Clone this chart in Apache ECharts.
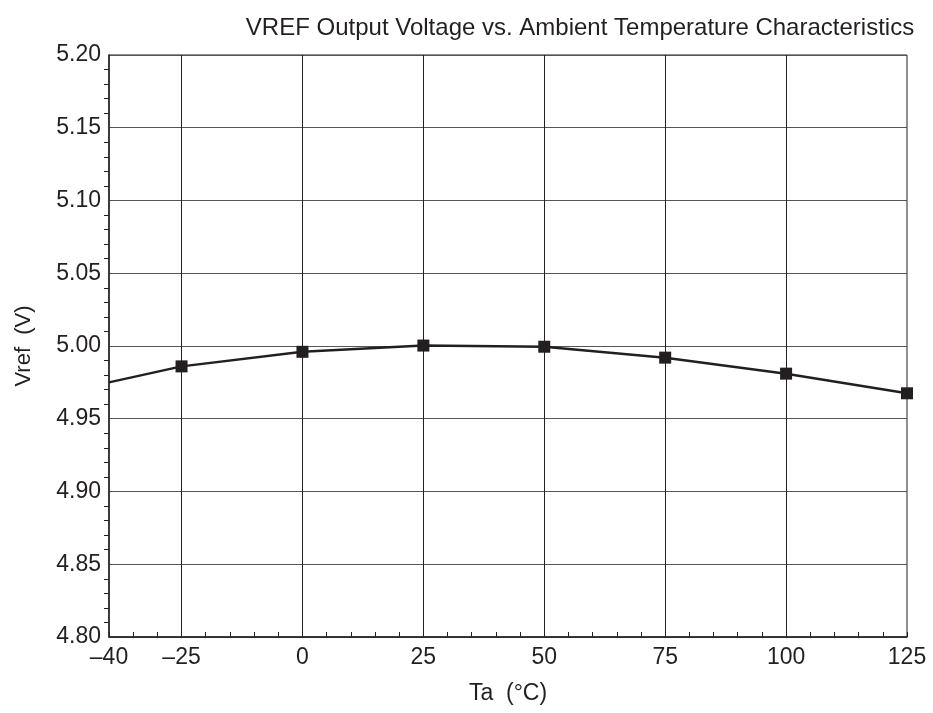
<!DOCTYPE html>
<html>
<head>
<meta charset="utf-8">
<script src="https://cdn.jsdelivr.net/npm/echarts@6/dist/echarts.min.js"></script>
<style>
html, body { margin: 0; padding: 0; background: #fff; }
#chart { width: 933px; height: 713px; }
</style>
</head>
<body>
<div id="chart"></div>
<script>
var temps = [-40, -25, 0, 25, 50, 75, 100, 125];
var vref = [4.975, 4.986, 4.996, 5.0003, 4.9995, 4.992, 4.981, 4.9675];
var labelTemps = [-40, -25, 0, 25, 50, 75, 100, 125];
var gridTemps = [-25, 0, 25, 50, 75, 100];

var chart = echarts.init(document.getElementById("chart"));
var font = "Liberation Sans";

var points = [];
for (var i = 0; i < temps.length; i++) {
	// first point sits on the left edge with no marker
	if (i == 0) {
		points.push({ value: [temps[i], vref[i]], symbol: "none" });
	} else {
		points.push([temps[i], vref[i]]);
	}
}

var vlines = gridTemps.map(function (t) {
	return { xAxis: t };
});

chart.setOption({
	animation: false,
	title: {
		text: "VREF Output Voltage vs. Ambient Temperature Characteristics",
		left: 575,
		top: 11,
		textAlign: "center",
		textStyle: { fontFamily: font, fontSize: 24, fontWeight: "normal", color: "#231f20" },
	},
	grid: {
		left: 109,
		right: 26,
		top: 55,
		bottom: 76,
		show: true,
		borderColor: "#231f20",
		borderWidth: 1,
	},
	xAxis: {
		type: "value",
		min: -40,
		max: 125,
		interval: 5,
		name: "Ta  (\u00b0C)",
		nameLocation: "middle",
		nameGap: 45,
		nameTextStyle: { fontFamily: font, fontSize: 23, color: "#231f20" },
		axisLine: { onZero: false, lineStyle: { color: "#231f20", width: 1.5 } },
		axisTick: { inside: true, length: 5, lineStyle: { color: "#231f20" } },
		splitLine: { show: false },
		axisLabel: {
			margin: 9,
			fontFamily: font,
			fontSize: 23,
			color: "#231f20",
			formatter: function (v) {
				if (labelTemps.indexOf(v) < 0) return "";
				return v < 0 ? "\u2013" + Math.abs(v) : String(v);
			},
		},
	},
	yAxis: {
		type: "value",
		min: 4.8,
		max: 5.2,
		interval: 0.05,
		name: "Vref  (V)",
		nameLocation: "middle",
		nameGap: 74,
		nameTextStyle: { fontFamily: font, fontSize: 22, color: "#231f20" },
		axisLine: { show: true, onZero: false, lineStyle: { color: "#231f20", width: 1.5 } },
		axisTick: { show: false },
		minorTick: { show: true, splitNumber: 5, length: 5, lineStyle: { color: "#231f20" } },
		splitLine: { show: true, lineStyle: { color: "#555", width: 1 } },
		axisLabel: {
			margin: 8,
			fontFamily: font,
			fontSize: 23,
			color: "#231f20",
			formatter: function (v) {
				return v.toFixed(2);
			},
		},
	},
	series: [
		{
			type: "line",
			data: points,
			symbol: "rect",
			symbolSize: 12,
			lineStyle: { color: "#231f20", width: 2.5 },
			itemStyle: { color: "#231f20" },
			markLine: {
				silent: true,
				symbol: "none",
				label: { show: false },
				lineStyle: { color: "#231f20", width: 1, type: "solid" },
				data: vlines,
			},
		},
	],
});
</script>
</body>
</html>
